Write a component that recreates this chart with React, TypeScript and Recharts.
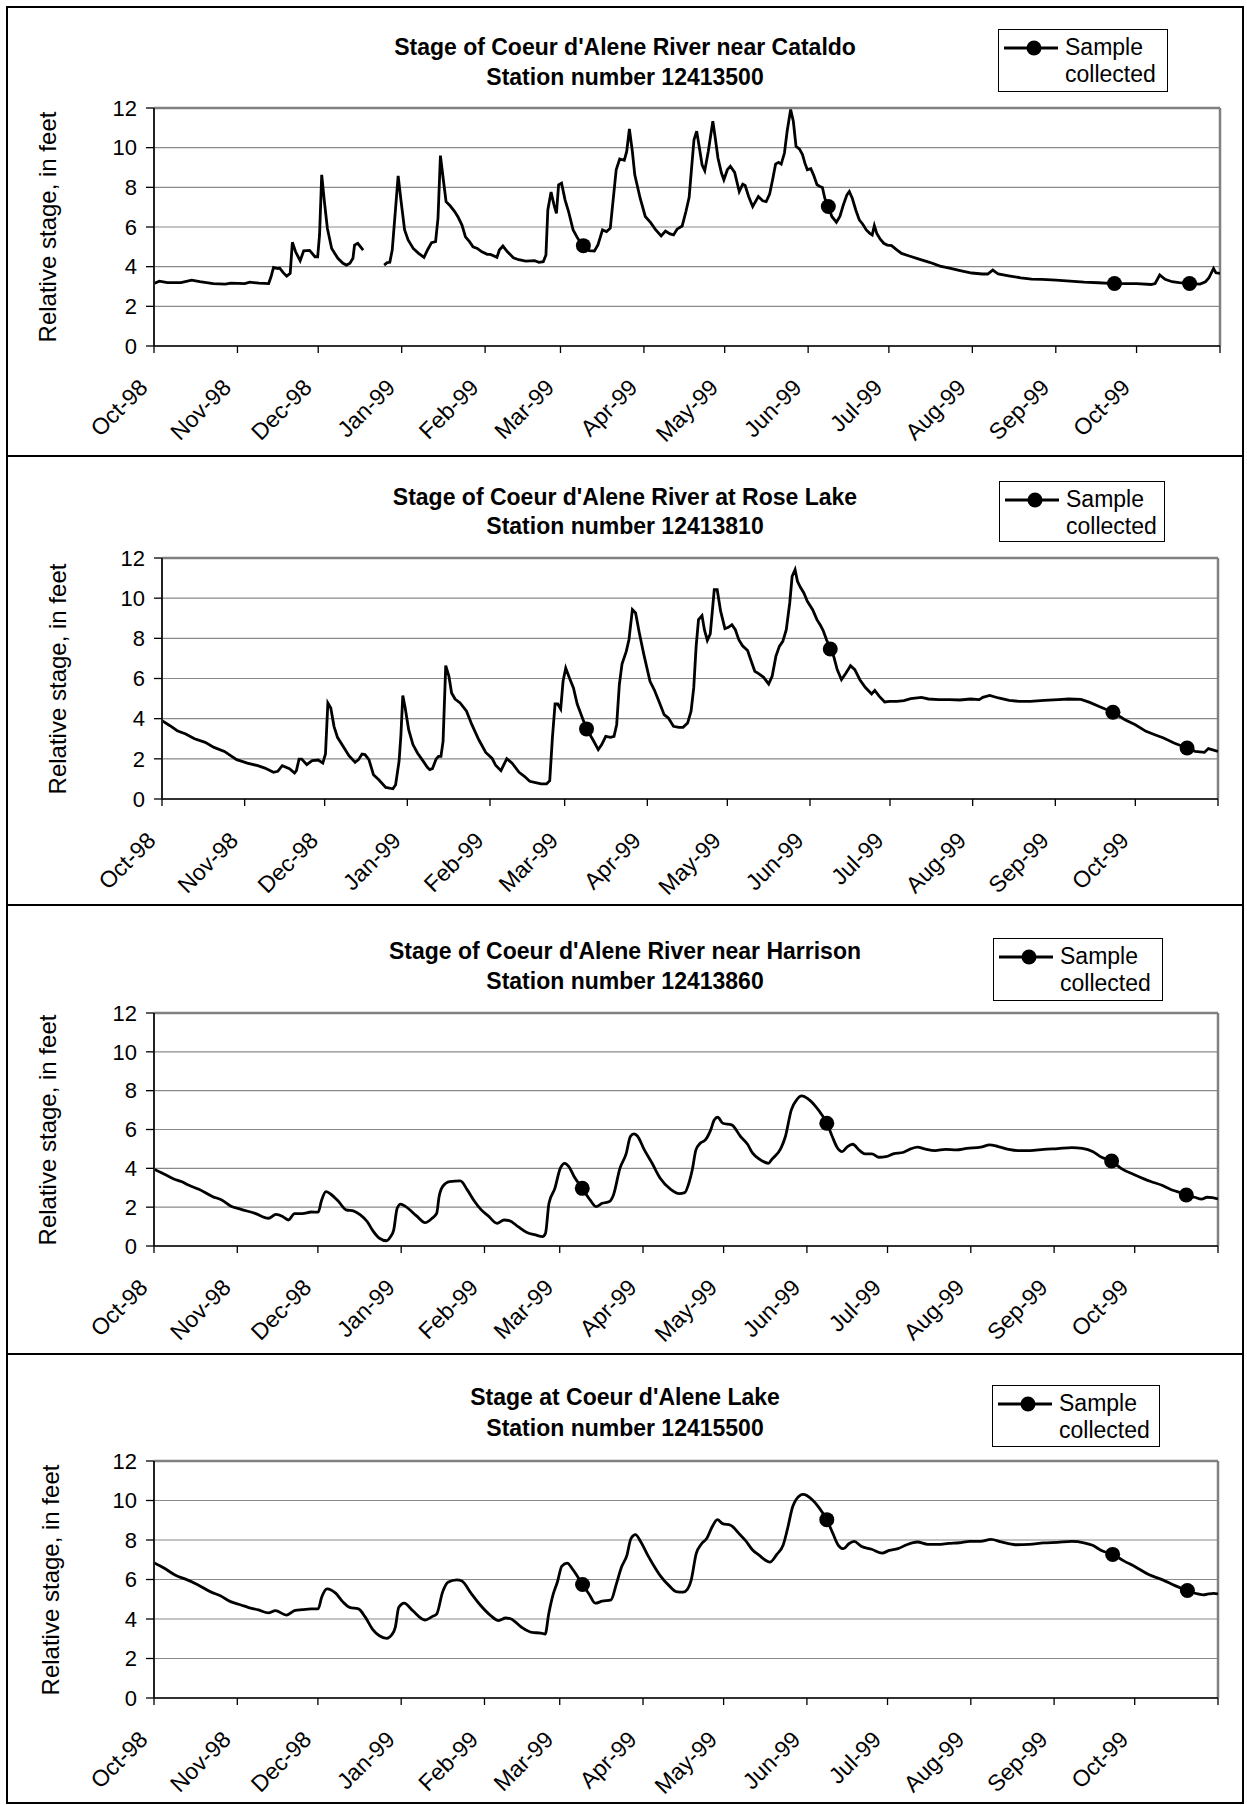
import React from "react";
import { ComposedChart, Line, XAxis, YAxis, CartesianGrid, ReferenceLine } from "recharts";

// days counted from 1 Oct 1998
const monthTicks = [0, 31, 61, 92, 123, 151, 182, 212, 243, 273, 304, 335, 365, 396];
const monthLabels = [
  "Oct-98", "Nov-98", "Dec-98", "Jan-99", "Feb-99", "Mar-99", "Apr-99",
  "May-99", "Jun-99", "Jul-99", "Aug-99", "Sep-99", "Oct-99", "",
];
const stageTicks = [0, 2, 4, 6, 8, 10, 12];

type Pt = [number, number | null];

const cataldoStage: Pt[] = [
  [0, 3.15], [2, 3.27], [5, 3.2], [10, 3.2], [14, 3.32], [17, 3.24], [22, 3.15], [26.5, 3.12],
  [28.5, 3.17], [33.7, 3.15], [35.6, 3.22], [39, 3.17], [42.6, 3.15], [43.5, 3.5], [44.4, 3.96],
  [46, 3.9], [46.7, 3.93], [48, 3.7], [49.3, 3.52], [50.6, 3.66], [51.4, 5.23], [52.6, 4.75],
  [54.3, 4.3], [55.6, 4.8], [57.8, 4.82], [59.8, 4.5], [60.8, 4.5], [61.5, 5.6], [62.3, 8.63],
  [63.3, 7.28], [64.4, 5.94], [66, 4.92], [68.3, 4.42], [70.2, 4.17], [71.5, 4.08], [72.8, 4.17],
  [73.9, 4.42], [74.5, 5.09], [75.7, 5.18], [77.7, 4.84], [81, null], [85.5, 4.08], [86.6, 4.2],
  [87.6, 4.22], [88.5, 4.84], [90.7, 8.58], [91.8, 7.28], [93.1, 5.85], [94.4, 5.35], [96.3, 4.92],
  [98.3, 4.67], [100.3, 4.47], [101.6, 4.84], [103.1, 5.21], [104.6, 5.26], [105.5, 6.44],
  [106.4, 9.6], [107.4, 8.47], [108.5, 7.28], [110, 7.07], [111.7, 6.78], [113, 6.49], [114.4, 6.1],
  [115.7, 5.5], [117.2, 5.26], [118.5, 5.0], [120.1, 4.92], [121.8, 4.75], [123.8, 4.62], [125, 4.62],
  [127.4, 4.47], [128.3, 4.84], [129.6, 5.04], [131.3, 4.75], [133.5, 4.45], [135.5, 4.35],
  [138.1, 4.28], [141.4, 4.3], [143, 4.22], [144.6, 4.25], [145.6, 4.59], [146.3, 6.86], [147.5, 7.76],
  [148.6, 7.12], [149.5, 6.69], [150.3, 8.13], [151.4, 8.21], [152.7, 7.37], [154, 6.78], [155.7, 5.85],
  [157.4, 5.43], [159.5, 5.06], [161.6, 4.81], [163.6, 4.79], [164.9, 5.09], [166.6, 5.85],
  [168.1, 5.77], [169.5, 5.94], [170.5, 7.28], [171.7, 8.89], [173, 9.43], [174.7, 9.36], [175.6, 9.81],
  [176.6, 10.94], [177.7, 9.81], [178.6, 8.63], [180.6, 7.45], [182.5, 6.53], [184.5, 6.22],
  [186.4, 5.85], [188.4, 5.55], [190, 5.8], [191.7, 5.65], [193, 5.6], [194.3, 5.89], [196.2, 6.05],
  [197.6, 6.78], [198.8, 7.5], [199.6, 8.8], [200.6, 10.4], [201.6, 10.83], [202.6, 10.0], [203.6, 9.14],
  [204.6, 8.84], [205.9, 9.81], [207.6, 11.33], [208.5, 10.49], [209.5, 9.48], [210.8, 8.72],
  [211.7, 8.38], [213, 8.89], [214.1, 9.06], [215.7, 8.75], [217.4, 7.79], [218.7, 8.16], [219.6, 8.09],
  [220.9, 7.54], [222.4, 7.03], [224.5, 7.54], [226.1, 7.32], [227.4, 7.28], [228.7, 7.66], [229.8, 8.38],
  [230.9, 9.17], [232, 9.26], [233, 9.17], [234.2, 9.73], [235.2, 10.83], [236.5, 11.92], [237.5, 11.33],
  [238.5, 10.07], [239.8, 9.93], [240.9, 9.65], [241.8, 9.22], [242.7, 8.89], [244, 8.94], [245, 8.63],
  [246.3, 8.13], [247.4, 8.04], [248.3, 7.99], [249.2, 7.45], [250.5, 7.03], [251.8, 6.53],
  [253.5, 6.24], [254.8, 6.53], [256.1, 7.12], [257.4, 7.62], [258.3, 7.79], [259.4, 7.45],
  [260.7, 6.86], [262, 6.36], [263.3, 6.14], [264.6, 5.85], [265.9, 5.68], [266.8, 5.6], [267.6, 6.07],
  [268.5, 5.68], [269.8, 5.38], [271.1, 5.18], [272.4, 5.09], [274, 5.06], [275.7, 4.87], [277.7, 4.67],
  [280.3, 4.55], [284.2, 4.38], [288.1, 4.22], [292, 4.03], [295.9, 3.91], [299.9, 3.79], [303.8, 3.68],
  [307.7, 3.63], [309.7, 3.63], [311.6, 3.83], [313.6, 3.63], [317.5, 3.54], [322, 3.44], [326, 3.37],
  [329.9, 3.36], [335.1, 3.32], [340.3, 3.27], [345.5, 3.22], [350.8, 3.19], [356.8, 3.15],
  [361.2, 3.15], [365.1, 3.14], [370.4, 3.1], [371.9, 3.15], [373.6, 3.58], [375.6, 3.36],
  [378.2, 3.24], [380.8, 3.19], [384.7, 3.15], [388.6, 3.12], [390.6, 3.24], [391.9, 3.44],
  [393.6, 3.91], [394.5, 3.69], [396, 3.66],
];
const cataldoSamples: Pt[] = [[159.5, 5.06], [250.5, 7.03], [356.8, 3.15], [384.7, 3.15]];

const roseLakeStage: Pt[] = [
  [0, 3.9], [3, 3.65], [5.7, 3.4], [8.9, 3.24], [12.2, 3.0], [16.2, 2.82], [19.5, 2.57], [23.4, 2.37],
  [28, 1.96], [32, 1.79], [35.9, 1.66], [38.6, 1.54], [41.8, 1.33], [43.4, 1.38], [45.1, 1.66],
  [47.8, 1.51], [49.7, 1.29], [50.4, 1.41], [51.4, 1.99], [52.4, 1.99], [54.3, 1.71], [56.3, 1.91],
  [58.6, 1.94], [60.3, 1.79], [61.3, 2.24], [62.2, 4.78], [63.3, 4.53], [64.5, 3.62], [65.8, 3.07],
  [68.2, 2.57], [70.1, 2.16], [72.4, 1.83], [73.7, 1.96], [75, 2.24], [76.1, 2.21], [77.6, 1.96],
  [79.3, 1.21], [81.3, 0.96], [83.9, 0.58], [86.6, 0.51], [87.6, 0.71], [88.9, 1.88], [89.6, 3.2],
  [90.3, 5.15], [91.2, 4.53], [92.5, 3.45], [94.1, 2.71], [95.8, 2.29], [97.8, 1.91], [99.5, 1.58],
  [100.4, 1.46], [101.4, 1.51], [102.8, 1.99], [103.7, 2.12], [104.6, 2.12], [105.4, 2.87],
  [106.4, 6.64], [107.6, 6.11], [108.6, 5.28], [109.9, 4.98], [111.8, 4.78], [114.2, 4.37],
  [116.2, 3.7], [118.8, 2.95], [121.4, 2.32], [123.8, 2.02], [125.1, 1.68], [127.1, 1.41],
  [129.3, 2.01], [131.3, 1.78], [133.9, 1.33], [135.9, 1.13], [137.9, 0.88], [140.5, 0.8],
  [142.2, 0.75], [144.2, 0.75], [145.4, 0.91], [146.4, 3.04], [147.4, 4.73], [148.4, 4.73],
  [149.5, 4.48], [150.4, 5.86], [151.4, 6.52], [152.8, 6.02], [154.3, 5.53], [155.7, 4.73],
  [157.2, 4.2], [159.2, 3.49], [161.6, 2.95], [163.6, 2.46], [164.9, 2.71], [166.4, 3.12],
  [168.2, 3.07], [169.5, 3.12], [170.5, 3.7], [171.5, 5.69], [172.5, 6.72], [174.1, 7.35],
  [175.1, 7.93], [176.4, 9.43], [177.6, 9.26], [179, 8.27], [180.7, 7.19], [183, 5.86], [184.6, 5.44],
  [186.6, 4.78], [188.3, 4.2], [189.9, 4.03], [191.8, 3.62], [193.8, 3.57], [195.4, 3.57],
  [197.1, 3.78], [198.4, 4.37], [199.4, 5.53], [200.3, 7.6], [201.2, 8.93], [202.5, 9.13],
  [203.4, 8.43], [204.5, 7.9], [205.6, 8.22], [207.1, 10.42], [208.2, 10.42], [209.5, 9.34],
  [211.1, 8.48], [212.4, 8.55], [213.7, 8.68], [215, 8.43], [216.3, 7.93], [217.7, 7.63], [219.6, 7.39],
  [221, 6.85], [222.3, 6.36], [224, 6.22], [225.6, 6.06], [227.5, 5.73], [228.8, 6.11], [230.2, 7.1],
  [231.5, 7.6], [232.8, 7.85], [234.1, 8.43], [235.4, 9.76], [236.3, 11.09], [237.4, 11.42],
  [238.3, 10.84], [239.4, 10.54], [240.7, 10.26], [242, 9.84], [244, 9.43], [245.6, 8.93],
  [246.9, 8.65], [247.9, 8.4], [249.2, 7.93], [250.6, 7.47], [251.9, 7.1], [253.2, 6.44],
  [254.8, 5.94], [256.5, 6.27], [258.2, 6.64], [259.8, 6.44], [261.7, 5.94], [263.7, 5.56],
  [266.1, 5.23], [267.3, 5.41], [269, 5.11], [271, 4.83], [272.9, 4.86], [275.6, 4.86], [278.2, 4.9],
  [280.8, 5.0], [284.8, 5.06], [287.4, 4.98], [291.3, 4.95], [295.3, 4.95], [299.2, 4.93],
  [303.2, 4.98], [306.5, 4.95], [307.8, 5.06], [310.4, 5.16], [313.7, 5.03], [317.7, 4.91],
  [321.6, 4.86], [325.6, 4.86], [330.8, 4.91], [336.1, 4.95], [340, 4.98], [344.6, 4.96],
  [347.9, 4.81], [351.9, 4.58], [356.6, 4.32], [361.1, 3.95], [365, 3.7], [369, 3.37], [372.3, 3.2],
  [375.6, 3.04], [379.5, 2.79], [384.4, 2.54], [387.4, 2.37], [390.9, 2.32], [392.4, 2.51], [396, 2.37],
];
const roseLakeSamples: Pt[] = [[159.2, 3.49], [250.6, 7.47], [356.6, 4.32], [384.4, 2.54]];

const harrisonStage: Pt[] = [
  [0, 3.95], [3.7, 3.71], [7.6, 3.44], [10.2, 3.32], [12.8, 3.14], [16.7, 2.92], [21.9, 2.54],
  [25.2, 2.37], [28.5, 2.06], [32.4, 1.89], [37.6, 1.68], [42.6, 1.43], [45.4, 1.63], [48, 1.51],
  [50, 1.34], [52.3, 1.67], [55.2, 1.67], [58.5, 1.75], [61.1, 1.74], [62.4, 2.37], [64, 2.8],
  [65.7, 2.68], [68.7, 2.29], [71.5, 1.86], [74.4, 1.8], [76.8, 1.6], [79.4, 1.25], [81.3, 0.82],
  [83.9, 0.4], [86.6, 0.27], [87.9, 0.45], [89.2, 0.82], [90.5, 1.94], [91.8, 2.16], [93.7, 2.03],
  [97.7, 1.55], [100.9, 1.2], [103.5, 1.43], [105.2, 1.68], [106.1, 2.54], [107.4, 3.06], [110, 3.32],
  [114, 3.35], [116.6, 2.89], [119.2, 2.32], [121.8, 1.86], [124.4, 1.55], [127.7, 1.17], [130.3, 1.34],
  [132.2, 1.31], [135.5, 1.0], [138.8, 0.7], [142, 0.57], [144.6, 0.48], [145.7, 0.65], [147, 2.2],
  [149.2, 2.97], [151.2, 4.0], [152.9, 4.26], [154.4, 4.09], [156.4, 3.57], [159.4, 2.97],
  [162.3, 2.37], [164.5, 2.03], [166.8, 2.2], [169.5, 2.29], [171, 2.63], [173.4, 4.0], [175.7, 4.74],
  [177.3, 5.64], [178.6, 5.77], [179.9, 5.67], [182.5, 4.95], [185.4, 4.26], [188.4, 3.49],
  [192.3, 2.92], [195.5, 2.7], [197.5, 2.75], [199.2, 3.3], [200.3, 3.9], [201.7, 4.95], [203.3, 5.29],
  [205.2, 5.46], [207.2, 5.98], [208.5, 6.49], [209.8, 6.63], [211.7, 6.32], [215, 6.24], [218.3, 5.64],
  [220.9, 5.24], [222.8, 4.78], [225.4, 4.47], [228.7, 4.26], [230, 4.47], [233.3, 5.03], [235, 5.64],
  [237.2, 7.01], [239.2, 7.53], [241.1, 7.73], [243.1, 7.61], [246.3, 7.18], [248.6, 6.75],
  [250.4, 6.32], [252.2, 5.72], [254.2, 5.09], [256.1, 4.86], [258.1, 5.12], [260, 5.24],
  [262.7, 4.91], [264.6, 4.74], [267.2, 4.74], [269.8, 4.57], [272.4, 4.6], [275.1, 4.74], [279, 4.83],
  [281.6, 5.0], [284.2, 5.09], [286.8, 5.0], [290.7, 4.91], [294.6, 4.98], [298.6, 4.95], [302.5, 5.03],
  [307.7, 5.09], [311, 5.21], [314.2, 5.12], [318.1, 4.98], [322.1, 4.91], [326, 4.91], [331.2, 4.98],
  [336.4, 5.02], [341.6, 5.07], [345.5, 5.03], [349.5, 4.86], [352.7, 4.57], [356.4, 4.38],
  [359.9, 4.0], [365.1, 3.66], [371, 3.32], [374.9, 3.14], [378.2, 2.92], [380.8, 2.8], [384.2, 2.63],
  [387.3, 2.51], [389.9, 2.41], [391.9, 2.51], [393.9, 2.49], [396, 2.42],
];
const harrisonSamples: Pt[] = [[159.4, 2.97], [250.4, 6.32], [356.4, 4.38], [384.2, 2.63]];

const lakeStage: Pt[] = [
  [0, 6.85], [3.7, 6.58], [8.2, 6.2], [11.5, 6.03], [16.1, 5.75], [21.3, 5.36], [24.5, 5.19],
  [28.5, 4.88], [32.4, 4.71], [35, 4.59], [38.9, 4.46], [42.6, 4.31], [45.2, 4.42], [49.3, 4.2],
  [52.6, 4.44], [55.2, 4.47], [58.5, 4.51], [61.1, 4.51], [62.4, 5.1], [64.4, 5.53], [67.6, 5.31],
  [70.2, 4.88], [72.8, 4.59], [76.1, 4.51], [78.7, 4.08], [81.3, 3.49], [83.9, 3.15], [86.6, 3.02],
  [88.5, 3.2], [89.8, 3.58], [91.1, 4.59], [93.1, 4.8], [96.3, 4.42], [100.9, 3.95], [103.5, 4.12],
  [105.2, 4.25], [107.4, 5.36], [109.4, 5.86], [112.7, 5.98], [114.6, 5.92], [117.9, 5.32],
  [121.1, 4.76], [125.1, 4.2], [128.3, 3.92], [130.9, 4.05], [132.9, 4.0], [136.8, 3.58], [140.7, 3.32],
  [144, 3.29], [145.6, 3.24], [146.9, 4.25], [148.6, 5.27], [150.1, 5.86], [151.8, 6.68], [153.8, 6.83],
  [155.7, 6.54], [159.5, 5.75], [161.9, 5.27], [164.2, 4.8], [166.8, 4.9], [170.1, 4.97], [172.1, 5.78],
  [174, 6.63], [176, 7.22], [177.5, 8.07], [179.2, 8.27], [181.2, 7.9], [183.8, 7.22], [185.8, 6.75],
  [188.4, 6.2], [191.7, 5.69], [194.3, 5.39], [196.9, 5.36], [198.5, 5.5], [199.9, 5.95], [201.8, 7.31],
  [203.8, 7.81], [205.7, 8.07], [207.7, 8.66], [209.7, 9.03], [211.6, 8.83], [214.6, 8.75],
  [217.5, 8.36], [220.1, 7.98], [222.7, 7.51], [225.3, 7.22], [227.3, 7.0], [229.2, 6.88],
  [231.8, 7.27], [234.2, 7.76], [235.8, 8.58], [237.7, 9.68], [239, 10.05], [241.6, 10.31],
  [244.9, 10.05], [247.5, 9.64], [250.4, 9.03], [252.7, 8.32], [254.7, 7.73], [256.6, 7.56],
  [258.6, 7.81], [260.6, 7.93], [263.2, 7.68], [267.1, 7.53], [271, 7.34], [273.6, 7.47], [276.9, 7.56],
  [280.1, 7.76], [284.1, 7.9], [288, 7.78], [291.9, 7.78], [295.8, 7.83], [299.7, 7.86], [303.6, 7.93],
  [307.6, 7.93], [311.5, 8.03], [315.4, 7.9], [320.6, 7.76], [325.8, 7.78], [331.1, 7.85],
  [336.3, 7.88], [341.5, 7.93], [346.1, 7.86], [349.3, 7.73], [352.6, 7.47], [356.8, 7.27],
  [361.1, 6.93], [365, 6.66], [370.2, 6.25], [375.4, 5.98], [380, 5.69], [384.6, 5.44], [388.5, 5.27],
  [390.5, 5.22], [392.4, 5.27], [394.4, 5.3], [396, 5.27],
];
const lakeSamples: Pt[] = [[159.5, 5.75], [250.4, 9.03], [356.8, 7.27], [384.6, 5.44]];

const FONT = "'Liberation Sans', Arial, sans-serif";
const CHART_W = 1234;
const CHART_H = 447;
const Y_AXIS_W = 60;
const X_AXIS_H = 60;

const toRows = (pts: Pt[]) => pts.map(([day, stage]) => ({ day, stage }));

type PanelSpec = {
  title: string;
  station: string;
  stage: Pt[];
  samples: Pt[];
  curve: "linear" | "monotone";
  plot: { left: number; right: number; top: number; bottom: number };
  titleY: [number, number];
  legend: { left: number; top: number; width: number; height: number };
  yLabelX: number;
};

const panels: PanelSpec[] = [
  {
    title: "Stage of Coeur d'Alene River near Cataldo",
    station: "Station number 12413500",
    stage: cataldoStage,
    samples: cataldoSamples,
    curve: "linear",
    plot: { left: 146, right: 1212, top: 100, bottom: 338 },
    titleY: [39, 69],
    legend: { left: 990, top: 21, width: 170, height: 63 },
    yLabelX: 40,
  },
  {
    title: "Stage of Coeur d'Alene River at Rose Lake",
    station: "Station number 12413810",
    stage: roseLakeStage,
    samples: roseLakeSamples,
    curve: "linear",
    plot: { left: 154, right: 1210, top: 101, bottom: 342 },
    titleY: [40, 69],
    legend: { left: 991, top: 24, width: 166, height: 61 },
    yLabelX: 50,
  },
  {
    title: "Stage of Coeur d'Alene River near Harrison",
    station: "Station number 12413860",
    stage: harrisonStage,
    samples: harrisonSamples,
    curve: "monotone",
    plot: { left: 146, right: 1210, top: 107, bottom: 340 },
    titleY: [45, 75],
    legend: { left: 985, top: 32, width: 170, height: 63 },
    yLabelX: 40,
  },
  {
    title: "Stage at Coeur d'Alene Lake",
    station: "Station number 12415500",
    stage: lakeStage,
    samples: lakeSamples,
    curve: "monotone",
    plot: { left: 146, right: 1210, top: 106, bottom: 343 },
    titleY: [42, 73],
    legend: { left: 984, top: 30, width: 168, height: 62 },
    yLabelX: 43,
  },
];

function MonthTick(props: any) {
  const { x, y, payload } = props;
  const label = monthLabels[monthTicks.indexOf(payload.value)] ?? "";
  const tx = x - 5;
  const ty = y + 34;
  return (
    <text
      x={tx}
      y={ty}
      transform={`rotate(-45 ${tx} ${ty})`}
      textAnchor="end"
      fontSize={23}
      fontFamily={FONT}
      fill="#000"
    >
      {label}
    </text>
  );
}

function SampleLegend({ box }: { box: PanelSpec["legend"] }) {
  return (
    <div
      style={{
        position: "absolute",
        left: box.left,
        top: box.top,
        width: box.width,
        height: box.height,
        border: "1.5px solid #000",
        boxSizing: "border-box",
        background: "#fff",
        fontFamily: FONT,
        fontSize: 23,
        color: "#000",
      }}
    >
      <svg width={64} height={40} style={{ position: "absolute", left: 4, top: 0 }}>
        <line x1={1} y1={18} x2={55} y2={18} stroke="#000" strokeWidth={2.8} />
        <circle cx={31} cy={18} r={7.5} fill="#000" />
      </svg>
      <div style={{ position: "absolute", left: 66, top: 4, lineHeight: "27px" }}>
        Sample
        <br />
        collected
      </div>
    </div>
  );
}

function StagePanel({ spec, first }: { spec: PanelSpec; first: boolean }) {
  const { plot } = spec;
  const margin = {
    top: plot.top,
    right: CHART_W - plot.right,
    bottom: CHART_H - plot.bottom - X_AXIS_H,
    left: plot.left - Y_AXIS_W,
  };
  const yCenter = (plot.top + plot.bottom) / 2;
  return (
    <div
      style={{
        position: "relative",
        width: CHART_W,
        height: CHART_H,
        border: "2px solid #000",
        marginTop: first ? 0 : -2,
        background: "#fff",
      }}
    >
      {spec.titleY.map((ty, i) => (
        <div
          key={i}
          style={{
            position: "absolute",
            left: 0,
            width: CHART_W,
            top: ty - 15,
            height: 30,
            lineHeight: "30px",
            textAlign: "center",
            fontFamily: FONT,
            fontWeight: "bold",
            fontSize: 23,
            color: "#000",
          }}
        >
          {i === 0 ? spec.title : spec.station}
        </div>
      ))}
      <div
        style={{
          position: "absolute",
          left: spec.yLabelX,
          top: yCenter,
          transform: "translate(-50%, -50%) rotate(-90deg)",
          whiteSpace: "nowrap",
          fontFamily: FONT,
          fontSize: 24,
          color: "#000",
        }}
      >
        Relative stage, in feet
      </div>
      <div style={{ position: "absolute", left: 0, top: 0 }}>
        <ComposedChart width={CHART_W} height={CHART_H} margin={margin}>
          <CartesianGrid vertical={false} stroke="#8a8a8a" strokeWidth={1.2} />
          <XAxis
            dataKey="day"
            type="number"
            domain={[0, 396]}
            ticks={monthTicks}
            interval={0}
            height={X_AXIS_H}
            axisLine={{ stroke: "#000", strokeWidth: 1.6 }}
            tickLine={{ stroke: "#000", strokeWidth: 1.3 }}
            tickSize={7}
            tickMargin={2}
            tick={<MonthTick />}
            allowDataOverflow
          />
          <YAxis
            type="number"
            domain={[0, 12]}
            ticks={stageTicks}
            interval={0}
            width={Y_AXIS_W}
            axisLine={{ stroke: "#222", strokeWidth: 2 }}
            tickLine={{ stroke: "#000", strokeWidth: 1.3 }}
            tickSize={8}
            tickMargin={9}
            tick={{ fontSize: 22, fontFamily: FONT, fill: "#000" }}
            allowDataOverflow
          />
          <ReferenceLine y={12} stroke="#808080" strokeWidth={2.5} />
          <ReferenceLine x={396} stroke="#808080" strokeWidth={2.5} />
          <Line
            data={toRows(spec.stage)}
            dataKey="stage"
            type={spec.curve}
            stroke="#000"
            strokeWidth={2.8}
            dot={false}
            activeDot={false}
            connectNulls={false}
            isAnimationActive={false}
          />
          <Line
            data={toRows(spec.samples)}
            dataKey="stage"
            stroke="none"
            dot={{ r: 7.5, fill: "#000", stroke: "#000", strokeWidth: 0 }}
            activeDot={false}
            isAnimationActive={false}
          />
        </ComposedChart>
      </div>
      <SampleLegend box={spec.legend} />
    </div>
  );
}

export default function App() {
  return (
    <div style={{ position: "absolute", left: 6, top: 6 }}>
      {panels.map((p, i) => (
        <StagePanel key={p.station} spec={p} first={i === 0} />
      ))}
    </div>
  );
}
